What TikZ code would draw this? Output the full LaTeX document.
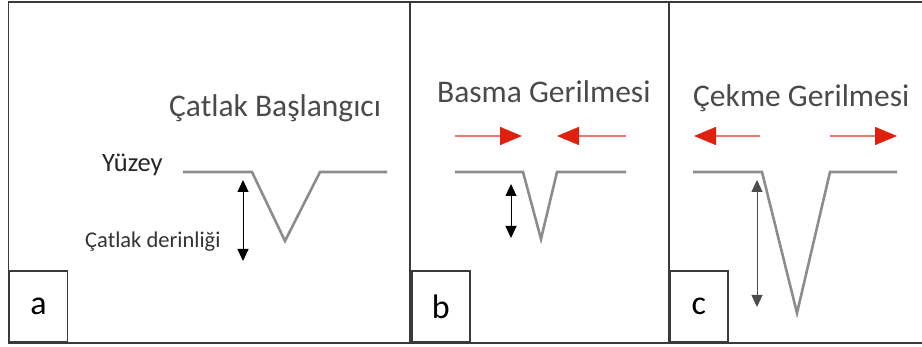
\documentclass[tikz,border=0pt]{standalone}
\usepackage{fontspec}
\setmainfont{Carlito}
\usepackage{xcolor}
\usepackage{tikz}
\usetikzlibrary{positioning, arrows.meta, calc}

\definecolor{framegray}{HTML}{3A3A3A}
\definecolor{surfgray}{HTML}{8C8C8C}
\definecolor{textgray}{HTML}{4A4A4A}
\definecolor{stressred}{HTML}{E0200F}

\begin{document}
\begin{tikzpicture}[x=1pt, y=-1pt,
    frame/.style={draw=framegray, line width=1.8pt},
    lbl/.style={draw=framegray, line width=1.8pt, anchor=south west, minimum width=58pt, minimum height=71pt, inner sep=0pt, font=\fontsize{34}{34}\selectfont},
    title/.style={anchor=base west, inner sep=0pt, text=textgray, font=\fontsize{31.5}{32}\selectfont},
    surface/.style={draw=surfgray, line width=2.6pt, line join=miter},
    depth/.style={{Triangle[length=12pt, width=11pt]}-{Triangle[length=12pt, width=11pt]}, line width=0.9pt},
    stress/.style={-{Triangle[length=22pt, width=18pt, color=stressred]}, draw=stressred!60, line width=1.6pt}]
          \useasboundingbox (0,0) rectangle (922,347);

          % frame and panels
          \draw[frame] (922,2) -- (8.5,2) -- (8.5,343) -- (922,343);
          \draw[frame] (410,2) -- (410,343);
          \draw[frame] (669,2) -- (669,343);
          \node[lbl] (la) at (8.5,343) {a};
          \node[lbl] (lb) at (411,343) {b};
          \node[lbl] (lc) at (669,343) {c};

          % panel a
          \node[title] (ta) at (169,117) {Çatlak Başlangıcı};
          \node[anchor=base west, inner sep=0pt, text=black!85, font=\fontsize{26.5}{27}\selectfont] (yuzey) at (102,172) {Yüzey};
          \node[anchor=base west, inner sep=0pt, text=black!80, font=\fontsize{22.5}{23}\selectfont] (derin) at (85,248) {Çatlak derinliği};
          \coordinate (a1) at (183,172);
          \coordinate (a2) at (252,172);
          \coordinate (a3) at (285,241);
          \coordinate (a4) at (320,172);
          \coordinate (a5) at (387,172);
          \draw[surface] (a1) -- (a2) -- (a3) -- (a4) -- (a5);
          \coordinate (da1) at (243,180);
          \coordinate (da2) at (243,261);
          \draw[depth] (da1) -- (da2);

          % panel b
          \node[title] (tb) at (437,103) {Basma Gerilmesi};
          \coordinate (sb1) at (455,136);
          \coordinate (sb2) at (522,136);
          \coordinate (sb3) at (626,136);
          \coordinate (sb4) at (557,136);
          \draw[stress] (sb1) -- (sb2);
          \draw[stress] (sb3) -- (sb4);
          \coordinate (b1) at (455,172);
          \coordinate (b2) at (523,172);
          \coordinate (b3) at (541,239);
          \coordinate (b4) at (557,172);
          \coordinate (b5) at (626,172);
          \draw[surface] (b1) -- (b2) -- (b3) -- (b4) -- (b5);
          \coordinate (db1) at (511,184);
          \coordinate (db2) at (511,238);
          \draw[depth] (db1) -- (db2);

          % panel c
          \node[title] (tc) at (693,107) {Çekme Gerilmesi};
          \coordinate (sc1) at (760,136);
          \coordinate (sc2) at (694,136);
          \coordinate (sc3) at (830,136);
          \coordinate (sc4) at (897,136);
          \draw[stress] (sc1) -- (sc2);
          \draw[stress] (sc3) -- (sc4);
          \coordinate (c1) at (693,172);
          \coordinate (c2) at (762,172);
          \coordinate (c3) at (797,313);
          \coordinate (c4) at (830,172);
          \coordinate (c5) at (897,172);
          \draw[surface] (c1) -- (c2) -- (c3) -- (c4) -- (c5);
          \coordinate (dc1) at (757,180);
          \coordinate (dc2) at (757,307);
          \draw[depth, draw=black!70] (dc1) -- (dc2);
        \end{tikzpicture}
\end{document}
